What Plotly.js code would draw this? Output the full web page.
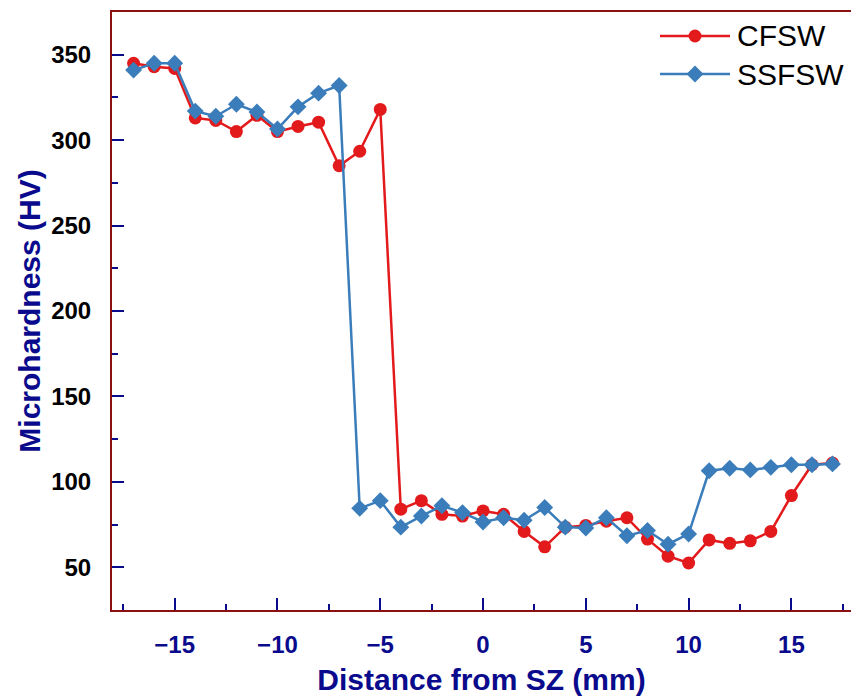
<!DOCTYPE html>
<html>
<head>
<meta charset="utf-8">
<script src="https://cdn.plot.ly/plotly-3.0.1.min.js"></script>
<style>html,body{margin:0;padding:0;background:#fff;}#chart{width:851px;height:696px;}</style>
</head>
<body>
<div id="chart"></div>
<script>
var distance = [-17,-16,-15,-14,-13,-12,-11,-10,-9,-8,-7,-6,-5,-4,-3,-2,-1,0,1,2,3,4,5,6,7,8,9,10,11,12,13,14,15,16,17];
var cfsw = [345,343,342,313,311.5,305,314.5,305,308,310.5,285,293.5,318,84,89,81,80,83,81,71,62,73.5,74.5,77,79,66.5,56.5,52.5,66,64,65.5,71,92,110,111];
var ssfsw = [341,345,345,317,314,321,316.5,306.5,319.5,327.5,332,84.5,89,73.5,80,86,82,76.5,79,77.5,85,73.5,73,79,68.5,71.5,63.5,69.5,106.5,108,107,108.5,110,110,110.5];
var seriesNames = ['CFSW', 'SSFSW'];
var xTicks = [-15,-10,-5,0,5,10,15];
var xTickText = ['\u221215','\u221210','\u22125','0','5','10','15'];
var yTicks = [50,100,150,200,250,300,350];

var navy = '#0a0a8c';
var axisRed = '#8b1010';
var red = '#e31a1c';
var blue = '#3a7dba';
var fontFam = 'Liberation Sans, Arial, sans-serif';

var traces = [
  {x: distance, y: cfsw, name: seriesNames[0], type: 'scatter', mode: 'lines+markers', showlegend: false,
   line: {color: red, width: 2.5}, marker: {symbol: 'circle', size: 13, color: red}},
  {x: distance, y: ssfsw, name: seriesNames[1], type: 'scatter', mode: 'lines+markers', showlegend: false,
   line: {color: blue, width: 2.5}, marker: {symbol: 'diamond', size: 13, color: blue}}
];

// legend drawn as decorations (positions in paper units)
var legRows = [0.9599, 0.8963];
var legX0 = 0.7415, legX1 = 0.8363, legXm = 0.7889, legTextX = 0.8435;
var shapes = [
  {type: 'line', xref: 'paper', yref: 'paper', x0: legX0, x1: legX1, y0: legRows[0], y1: legRows[0], line: {color: red, width: 2.5}},
  {type: 'circle', xref: 'paper', yref: 'paper', xsizemode: 'pixel', ysizemode: 'pixel', xanchor: legXm, yanchor: legRows[0],
   x0: -6.5, x1: 6.5, y0: -6.5, y1: 6.5, fillcolor: red, line: {width: 0}},
  {type: 'line', xref: 'paper', yref: 'paper', x0: legX0, x1: legX1, y0: legRows[1], y1: legRows[1], line: {color: blue, width: 2.5}},
  {type: 'path', xref: 'paper', yref: 'paper', xsizemode: 'pixel', ysizemode: 'pixel', xanchor: legXm, yanchor: legRows[1],
   path: 'M0,8.5 L8.5,0 L0,-8.5 L-8.5,0 Z', fillcolor: blue, line: {width: 0}}
];
var annotations = seriesNames.map(function (n, i) {
  return {text: n, xref: 'paper', yref: 'paper', x: legTextX, y: legRows[i], xanchor: 'left', yanchor: 'middle',
          showarrow: false, font: {family: fontFam, size: 30, color: '#000'}};
});

var layout = {
  width: 851, height: 696,
  margin: {l: 112, r: 0, t: 12, b: 86},
  paper_bgcolor: '#ffffff', plot_bgcolor: '#ffffff',
  showlegend: false,
  shapes: shapes,
  annotations: annotations,
  xaxis: {
    range: [-18.05, 17.9], showgrid: false, zeroline: false,
    showline: true, linecolor: axisRed, linewidth: 2, mirror: true,
    ticks: 'inside', ticklen: 12, tickwidth: 2, tickcolor: navy,
    tickvals: xTicks, ticktext: xTickText, ticklabelstandoff: 12,
    tickfont: {family: fontFam, size: 24, color: navy, weight: 'bold'},
    minor: {dtick: 2.5, tick0: 0, ticks: 'inside', ticklen: 6, tickwidth: 2, tickcolor: navy, showgrid: false},
    title: {text: 'Distance from SZ (mm)', standoff: 20,
            font: {family: fontFam, size: 30, color: navy, weight: 'bold'}}
  },
  yaxis: {
    range: [25, 375], showgrid: false, zeroline: false,
    showline: true, linecolor: axisRed, linewidth: 2, mirror: false,
    ticks: 'inside', ticklen: 12, tickwidth: 2, tickcolor: navy,
    tickvals: yTicks, ticklabelstandoff: 14,
    tickfont: {family: fontFam, size: 24, color: '#000', weight: 'bold'},
    minor: {dtick: 25, tick0: 0, ticks: 'inside', ticklen: 6, tickwidth: 2, tickcolor: navy, showgrid: false},
    title: {text: 'Microhardness (HV)', standoff: 2,
            font: {family: fontFam, size: 30, color: navy, weight: 'bold'}}
  }
};

Plotly.newPlot('chart', traces, layout, {displayModeBar: false, staticPlot: true});
</script>
</body>
</html>
